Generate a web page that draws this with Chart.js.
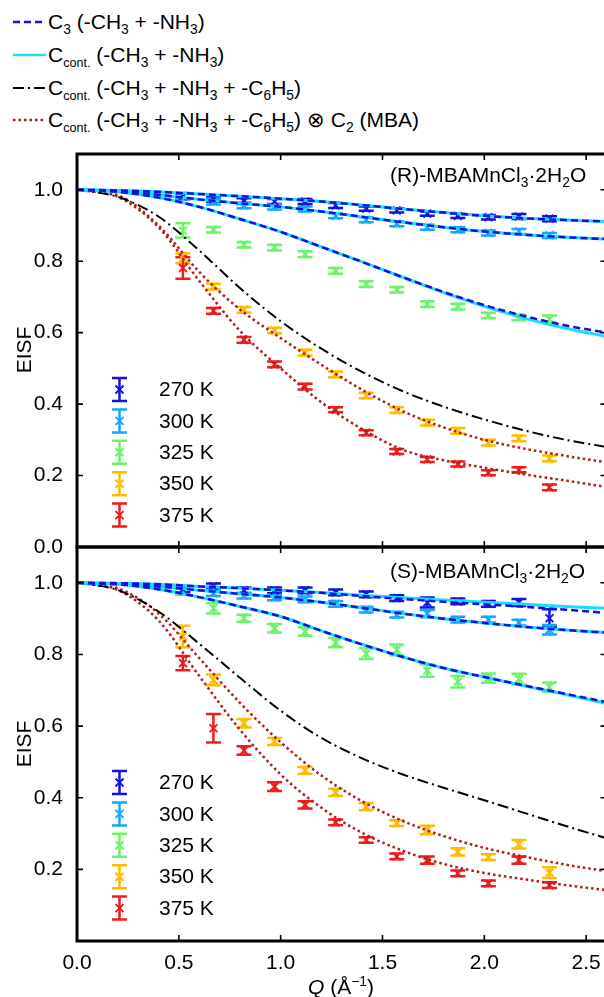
<!DOCTYPE html>
<html>
<head>
<meta charset="utf-8">
<title>EISF vs Q</title>
<script src="https://cdn.jsdelivr.net/npm/chart.js@4.4.1/dist/chart.umd.min.js"></script>
<style>
  html, body { margin: 0; padding: 0; width: 604px; height: 997px; overflow: hidden; background: #fff; }
  body { position: relative; font-family: "Liberation Sans", Arial, sans-serif; color: #000; }
  canvas { position: absolute; left: 0; }
  #chartR { top: 120px; }
  #chartS { top: 520px; }
  .row { position: absolute; left: 12px; height: 24px; line-height: 24px; font-size: 21px; display: flex; align-items: center; white-space: nowrap; }
  .row svg { display: block; margin-right: 2px; }
  sub { font-size: 0.66em; vertical-align: -0.38em; line-height: 0; }
  sub.c { font-size: 0.6em; }
  sup { font-size: 0.66em; vertical-align: 0.55em; line-height: 0; }
  .title { position: absolute; font-size: 21px; line-height: 24px; white-space: nowrap; }
  .ylab { position: absolute; width: 60px; height: 24px; line-height: 24px; font-size: 21px; text-align: center; transform: rotate(-90deg); }
  #xlab { position: absolute; left: 291px; top: 975px; width: 100px; text-align: center; font-size: 21px; line-height: 24px; white-space: nowrap; }
</style>
</head>
<body>

<!-- line-style key -->
<div class="row" style="top:10px">
  <svg width="34" height="12"><line x1="1" y1="6" x2="34" y2="6" stroke="#1111dd" stroke-width="2.5" stroke-dasharray="7 4"/></svg>
  <span>C<sub>3</sub> (-CH<sub>3</sub> + -NH<sub>3</sub>)</span>
</div>
<div class="row" style="top:43px">
  <svg width="34" height="12"><line x1="1" y1="6" x2="34" y2="6" stroke="#19dcff" stroke-width="2.5"/></svg>
  <span>C<sub class="c">cont.</sub> (-CH<sub>3</sub> + -NH<sub>3</sub>)</span>
</div>
<div class="row" style="top:76px">
  <svg width="34" height="12"><line x1="1" y1="6" x2="34" y2="6" stroke="#000" stroke-width="2" stroke-dasharray="11 4 2 4"/></svg>
  <span>C<sub class="c">cont.</sub> (-CH<sub>3</sub> + -NH<sub>3</sub> + -C<sub>6</sub>H<sub>5</sub>)</span>
</div>
<div class="row" style="top:108px">
  <svg width="34" height="12"><line x1="1" y1="6" x2="34" y2="6" stroke="#b31b1b" stroke-width="2.5" stroke-dasharray="2.5 3"/></svg>
  <span>C<sub class="c">cont.</sub> (-CH<sub>3</sub> + -NH<sub>3</sub> + -C<sub>6</sub>H<sub>5</sub>) ⊗ C<sub>2</sub> (MBA)</span>
</div>

<canvas id="chartR" width="614" height="447"></canvas>
<canvas id="chartS" width="614" height="477"></canvas>

<div class="title" style="left:390px; top:163px">(R)-MBAMnCl<sub>3</sub>·2H<sub>2</sub>O</div>
<div class="title" style="left:390px; top:559px">(S)-MBAMnCl<sub>3</sub>·2H<sub>2</sub>O</div>
<div class="ylab" style="left:-6px; top:338px">EISF</div>
<div class="ylab" style="left:-6px; top:732px">EISF</div>
<div id="xlab"><i>Q</i> (Å<sup>−1</sup>)</div>

<script>
// ── Data ──────────────────────────────────────────────────────────────────
const Q      = [0.52, 0.67, 0.82, 0.97, 1.12, 1.27, 1.42, 1.57, 1.72, 1.87, 2.02, 2.17, 2.32];
const Q_FIT  = [0, 0.2, 0.4, 0.6, 0.8, 1.0, 1.2, 1.4, 1.6, 1.8, 2.0, 2.2, 2.4, 2.6];
const X_TICKS = [0, 0.5, 1.0, 1.5, 2.0, 2.5];
const Y_TICKS = [0, 0.2, 0.4, 0.6, 0.8, 1.0];
const TEMPS  = ['270 K', '300 K', '325 K', '350 K', '375 K'];
const COLORS = ['#1414e0', '#17a6ff', '#6ef26e', '#ffbb00', '#ee1c1c'];

// (R) sample – measured EISF and errors
const R_270 = [0.981, 0.974, 0.968, 0.967, 0.967, 0.956, 0.947, 0.942, 0.933, 0.927, 0.923, 0.925, 0.919];
const R_300 = [0.983, 0.967, 0.956, 0.952, 0.946, 0.927, 0.916, 0.905, 0.895, 0.888, 0.879, 0.883, 0.872];
const R_325 = [0.886, 0.888, 0.846, 0.838, 0.820, 0.773, 0.736, 0.720, 0.680, 0.673, 0.648, 0.643, 0.638];
const R_350 = [0.808, 0.729, 0.664, 0.606, 0.544, 0.483, 0.424, 0.383, 0.348, 0.325, 0.292, 0.304, 0.248];
const R_375 = [0.781, 0.661, 0.580, 0.511, 0.449, 0.384, 0.320, 0.267, 0.245, 0.232, 0.208, 0.216, 0.167];
const R_270_ERR = [0.008, 0.007, 0.008, 0.007, 0.007, 0.007, 0.006, 0.006, 0.006, 0.006, 0.006, 0.007, 0.007];
const R_300_ERR = [0.008, 0.008, 0.008, 0.007, 0.007, 0.007, 0.007, 0.007, 0.007, 0.007, 0.007, 0.007, 0.007];
const R_325_ERR = [0.020, 0.008, 0.008, 0.008, 0.008, 0.008, 0.008, 0.008, 0.008, 0.008, 0.008, 0.008, 0.010];
const R_350_ERR = [0.014, 0.008, 0.008, 0.008, 0.008, 0.008, 0.008, 0.008, 0.008, 0.008, 0.008, 0.008, 0.008];
const R_375_ERR = [0.030, 0.008, 0.008, 0.008, 0.008, 0.007, 0.007, 0.007, 0.007, 0.007, 0.007, 0.007, 0.008];

// (R) sample – model curves
const R_C3_270  = [1, 0.998, 0.994, 0.988, 0.982, 0.975, 0.967, 0.957, 0.946, 0.936, 0.927, 0.920, 0.915, 0.911];
const R_C3_300  = [1, 0.996, 0.986, 0.973, 0.962, 0.952, 0.939, 0.924, 0.909, 0.895, 0.883, 0.874, 0.867, 0.862];
const R_C3_325  = [1, 0.994, 0.978, 0.952, 0.918, 0.882, 0.840, 0.798, 0.755, 0.714, 0.677, 0.646, 0.620, 0.600];
const R_CC_270  = [1, 0.998, 0.994, 0.988, 0.982, 0.975, 0.967, 0.957, 0.946, 0.936, 0.927, 0.920, 0.915, 0.911];
const R_CC_300  = [1, 0.996, 0.986, 0.973, 0.962, 0.952, 0.939, 0.924, 0.909, 0.895, 0.883, 0.874, 0.867, 0.862];
const R_CC_325  = [1, 0.994, 0.978, 0.952, 0.918, 0.882, 0.840, 0.798, 0.755, 0.712, 0.674, 0.640, 0.612, 0.589];
const R_PH      = [1, 0.980, 0.925, 0.830, 0.725, 0.632, 0.555, 0.490, 0.436, 0.393, 0.357, 0.326, 0.300, 0.280];
const R_MBA_350 = [1, 0.985, 0.900, 0.770, 0.665, 0.585, 0.510, 0.440, 0.380, 0.335, 0.300, 0.275, 0.255, 0.237];
const R_MBA_375 = [1, 0.980, 0.895, 0.745, 0.605, 0.500, 0.405, 0.330, 0.272, 0.243, 0.222, 0.203, 0.186, 0.168];

// (S) sample – measured EISF and errors
const S_270 = [0.982, 0.990, 0.979, 0.979, 0.979, 0.973, 0.968, 0.957, 0.945, 0.948, 0.941, 0.945, 0.901];
const S_300 = [0.976, 0.971, 0.964, 0.959, 0.954, 0.941, 0.925, 0.911, 0.914, 0.897, 0.897, 0.889, 0.869];
const S_325 = [0.975, 0.929, 0.901, 0.873, 0.864, 0.833, 0.802, 0.813, 0.755, 0.724, 0.734, 0.731, 0.709];
const S_350 = [0.850, 0.729, 0.608, 0.557, 0.476, 0.415, 0.375, 0.329, 0.310, 0.249, 0.234, 0.270, 0.191];
const S_375 = [0.776, 0.594, 0.532, 0.431, 0.380, 0.331, 0.282, 0.236, 0.226, 0.189, 0.161, 0.226, 0.156];
const S_270_ERR = [0.008, 0.008, 0.008, 0.008, 0.008, 0.008, 0.008, 0.008, 0.014, 0.008, 0.008, 0.010, 0.025];
const S_300_ERR = [0.008, 0.008, 0.008, 0.008, 0.008, 0.008, 0.008, 0.008, 0.010, 0.008, 0.008, 0.008, 0.013];
const S_325_ERR = [0.008, 0.015, 0.010, 0.012, 0.012, 0.013, 0.015, 0.015, 0.017, 0.016, 0.013, 0.015, 0.013];
const S_350_ERR = [0.030, 0.015, 0.012, 0.010, 0.010, 0.010, 0.010, 0.008, 0.012, 0.010, 0.008, 0.012, 0.015];
const S_375_ERR = [0.020, 0.040, 0.012, 0.012, 0.010, 0.008, 0.008, 0.008, 0.010, 0.008, 0.008, 0.010, 0.008];

// (S) sample – model curves
const S_C3_270  = [1, 0.999, 0.996, 0.990, 0.985, 0.979, 0.972, 0.963, 0.955, 0.947, 0.940, 0.933, 0.925, 0.916];
const S_C3_300  = [1, 0.997, 0.990, 0.979, 0.969, 0.959, 0.946, 0.930, 0.914, 0.900, 0.888, 0.877, 0.868, 0.861];
const S_C3_325  = [1, 0.996, 0.982, 0.960, 0.934, 0.906, 0.866, 0.828, 0.793, 0.762, 0.737, 0.713, 0.690, 0.667];
const S_CC_270  = [1, 0.999, 0.996, 0.990, 0.985, 0.979, 0.973, 0.965, 0.958, 0.952, 0.946, 0.940, 0.934, 0.929];
const S_CC_300  = [1, 0.997, 0.990, 0.979, 0.969, 0.959, 0.946, 0.930, 0.914, 0.900, 0.888, 0.877, 0.868, 0.861];
const S_CC_325  = [1, 0.996, 0.982, 0.960, 0.934, 0.906, 0.866, 0.828, 0.793, 0.762, 0.737, 0.712, 0.688, 0.663];
const S_PH      = [1, 0.980, 0.920, 0.830, 0.735, 0.643, 0.567, 0.510, 0.465, 0.428, 0.393, 0.357, 0.321, 0.287];
const S_MBA_350 = [1, 0.985, 0.915, 0.790, 0.665, 0.555, 0.462, 0.390, 0.335, 0.293, 0.260, 0.235, 0.213, 0.195];
const S_MBA_375 = [1, 0.980, 0.895, 0.740, 0.590, 0.465, 0.372, 0.302, 0.252, 0.215, 0.190, 0.172, 0.156, 0.142];

// ── Styles ────────────────────────────────────────────────────────────────
const FONT = { family: '"Liberation Sans", Arial, sans-serif', size: 21 };
const BLUE = '#1111dd', CYAN = '#19dcff', BLACK = '#000', DARKRED = '#b31b1b';

Chart.defaults.font.family = FONT.family;
Chart.defaults.font.size = FONT.size;
Chart.defaults.color = '#000';

// ── Dataset helpers ───────────────────────────────────────────────────────
function measured(ys, errs, color) {
  return {
    data: ys.map((y, i) => ({ x: Q[i], y })),
    errors: errs,
    showLine: false,
    pointStyle: 'crossRot',
    pointRadius: 5.5,
    pointBorderWidth: 2,
    borderColor: color,
    backgroundColor: color,
    order: 5,
  };
}

function model(ys, color, width, dash, order) {
  return {
    data: ys.map((y, i) => ({ x: Q_FIT[i], y })),
    showLine: true,
    pointRadius: 0,
    borderColor: color,
    borderWidth: width,
    borderDash: dash,
    borderCapStyle: 'butt',
    cubicInterpolationMode: 'monotone',
    fill: false,
    order,
  };
}

function errorBar(ctx, x, yTop, yBot, color) {
  ctx.strokeStyle = color;
  ctx.lineWidth = 2.5;
  ctx.beginPath();
  ctx.moveTo(x, yTop); ctx.lineTo(x, yBot);
  ctx.moveTo(x - 7.5, yTop); ctx.lineTo(x + 7.5, yTop);
  ctx.moveTo(x - 7.5, yBot); ctx.lineTo(x + 7.5, yBot);
  ctx.stroke();
}

// error bars under the marks, frame + inward ticks + temperature key on top
const panelDecor = {
  id: 'panelDecor',
  beforeDatasetsDraw(chart) {
    const { ctx, scales: { x, y } } = chart;
    ctx.save();
    chart.data.datasets.forEach(ds => {
      if (!ds.errors) return;
      ds.data.forEach((p, j) => {
        const px = x.getPixelForValue(p.x);
        errorBar(ctx, px, y.getPixelForValue(p.y + ds.errors[j]), y.getPixelForValue(p.y - ds.errors[j]), ds.borderColor);
      });
    });
    ctx.restore();
  },
  afterDraw(chart) {
    const { ctx, chartArea: a, scales: { x, y } } = chart;
    ctx.save();
    ctx.strokeStyle = '#000';
    ctx.lineWidth = 1.6;
    ctx.beginPath();
    X_TICKS.forEach(v => {
      const px = x.getPixelForValue(v);
      ctx.moveTo(px, a.top); ctx.lineTo(px, a.top + 6);
      ctx.moveTo(px, a.bottom); ctx.lineTo(px, a.bottom - 6);
    });
    Y_TICKS.forEach(v => {
      const py = y.getPixelForValue(v);
      ctx.moveTo(a.left, py); ctx.lineTo(a.left + 6, py);
      ctx.moveTo(a.right, py); ctx.lineTo(a.right - 6, py);
    });
    ctx.stroke();

    ctx.lineWidth = 3;
    ctx.strokeRect(a.left, a.top, a.right - a.left, a.bottom - a.top);

    // temperature key
    ctx.font = `${FONT.size}px ${FONT.family}`;
    ctx.textBaseline = 'middle';
    ctx.textAlign = 'left';
    TEMPS.forEach((t, i) => {
      const cx = a.left + 42.5, cy = a.top + 235.5 + i * 31.4;
      errorBar(ctx, cx, cy - 11.5, cy + 11.5, COLORS[i]);
      ctx.lineWidth = 2;
      ctx.beginPath();
      ctx.moveTo(cx - 4, cy - 4); ctx.lineTo(cx + 4, cy + 4);
      ctx.moveTo(cx - 4, cy + 4); ctx.lineTo(cx + 4, cy - 4);
      ctx.stroke();
      ctx.fillStyle = '#000';
      ctx.fillText(t, a.left + 82, cy + 1);
    });
    ctx.restore();
  },
};

function panel(id, datasets, padding, bottomPanel) {
  return new Chart(document.getElementById(id), {
    type: 'scatter',
    data: { datasets },
    options: {
      responsive: false,
      animation: false,
      devicePixelRatio: 1,
      layout: { padding },
      plugins: { legend: { display: false }, tooltip: { enabled: false } },
      scales: {
        x: {
          type: 'linear', min: 0, max: 2.6,
          display: bottomPanel,
          grid: { display: false },
          border: { display: false },
          afterBuildTicks: s => { s.ticks = X_TICKS.map(v => ({ value: v })); },
          afterFit: s => { s.height = bottomPanel ? 56 : 0; },
          ticks: { padding: 2, autoSkip: false, maxRotation: 0, callback: v => v.toFixed(1) },
        },
        y: {
          type: 'linear', min: 0, max: 1.1,
          grid: { display: false },
          border: { display: false },
          afterBuildTicks: s => { s.ticks = Y_TICKS.map(v => ({ value: v })); },
          afterFit: s => { s.width = 77; },
          ticks: { padding: 6, callback: v => (bottomPanel && v === 0) ? '' : v.toFixed(1) },
        },
      },
    },
    plugins: [panelDecor],
  });
}

// ── (R) panel ─────────────────────────────────────────────────────────────
panel('chartR', [
  model(R_C3_270, BLUE, 2.5, [7, 4], 1),
  model(R_C3_300, BLUE, 2.5, [7, 4], 1),
  model(R_C3_325, BLUE, 2.5, [7, 4], 1),
  model(R_CC_270, CYAN, 3, [], 2),
  model(R_CC_300, CYAN, 3, [], 2),
  model(R_CC_325, CYAN, 3, [], 2),
  model(R_PH, BLACK, 2, [11, 4, 2, 4], 3),
  model(R_MBA_350, DARKRED, 2.5, [2.5, 3], 3),
  model(R_MBA_375, DARKRED, 2.5, [2.5, 3], 3),
  measured(R_270, R_270_ERR, COLORS[0]),
  measured(R_300, R_300_ERR, COLORS[1]),
  measured(R_325, R_325_ERR, COLORS[2]),
  measured(R_350, R_350_ERR, COLORS[3]),
  measured(R_375, R_375_ERR, COLORS[4]),
], { top: 34, right: 7.5, bottom: 20, left: 0 }, false);

// ── (S) panel ─────────────────────────────────────────────────────────────
panel('chartS', [
  model(S_C3_270, BLUE, 2.5, [7, 4], 1),
  model(S_C3_300, BLUE, 2.5, [7, 4], 1),
  model(S_C3_325, BLUE, 2.5, [7, 4], 1),
  model(S_CC_270, CYAN, 3, [], 2),
  model(S_CC_300, CYAN, 3, [], 2),
  model(S_CC_325, CYAN, 3, [], 2),
  model(S_PH, BLACK, 2, [11, 4, 2, 4], 3),
  model(S_MBA_350, DARKRED, 2.5, [2.5, 3], 3),
  model(S_MBA_375, DARKRED, 2.5, [2.5, 3], 3),
  measured(S_270, S_270_ERR, COLORS[0]),
  measured(S_300, S_300_ERR, COLORS[1]),
  measured(S_325, S_325_ERR, COLORS[2]),
  measured(S_350, S_350_ERR, COLORS[3]),
  measured(S_375, S_375_ERR, COLORS[4]),
], { top: 27, right: 7.5, bottom: 0, left: 0 }, true);
</script>
</body>
</html>
